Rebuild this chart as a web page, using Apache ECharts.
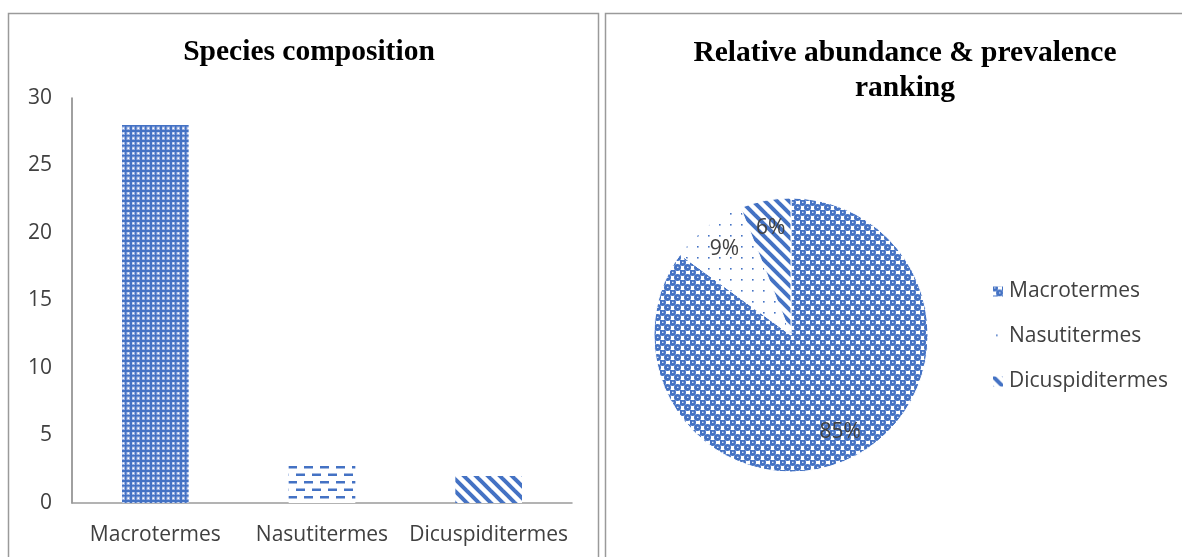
<!DOCTYPE html>
<html><head><meta charset="utf-8">
<script src="https://cdn.jsdelivr.net/npm/echarts@6/dist/echarts.min.js"></script>
<style>html,body{margin:0;padding:0;background:#fff}#c{width:1182px;height:557px}</style>
</head><body><div id="c"></div>
<script>
var categories = ['Macrotermes', 'Nasutitermes', 'Dicuspiditermes'];
var speciesCounts = [28, 3, 2];
var pieShares = [85, 9, 6];
var yTicks = [0, 5, 10, 15, 20, 25, 30];
var titleLeft = 'Species composition';
var titleRight = 'Relative abundance & prevalence\nranking';

var BLUE = '#4472C4';
function tile(w, h, draw) {
  var c = document.createElement('canvas'); c.width = w; c.height = h;
  var g = c.getContext('2d'); g.fillStyle = '#fff'; g.fillRect(0, 0, w, h);
  draw(g, w, h);
  return { image: c, repeat: 'repeat' };
}
var plaid = tile(10, 10, function (g) {
  g.fillStyle = '#98afe0'; g.fillRect(0, 0, 10, 10);
  g.fillStyle = '#fff'; g.fillRect(2.5, 2.5, 1.5, 1.5); g.fillRect(7.5, 7.5, 1.5, 1.5); g.fillRect(7.5, 2.5, 1.5, 1.5); g.fillRect(2.5, 7.5, 1.5, 1.5);
  g.fillStyle = BLUE; g.fillRect(0, 0, 10, 2); g.fillRect(0, 0, 2, 10); g.fillRect(0, 5, 10, 1.5); g.fillRect(5, 0, 1.5, 10);
});
var dashes = tile(16, 15, function (g) {
  g.fillStyle = BLUE; g.fillRect(0, 1, 9, 2.5); g.fillRect(8, 8.5, 8, 2.5); g.fillRect(0, 8.5, 1, 2.5);
});
var stripes = tile(12, 12, function (g) {
  g.strokeStyle = BLUE; g.lineWidth = 4;
  for (var k = -12; k <= 24; k += 12) { g.beginPath(); g.moveTo(k - 2, -2); g.lineTo(k + 14, 14); g.stroke(); }
});
var spheres = tile(10, 10, function (g) {
  g.fillStyle = BLUE;
  [[2.5, 2.5], [7.5, 7.5], [-2.5, 7.5], [7.5, -2.5], [12.5, 7.5], [7.5, 12.5], [-2.5, -2.5], [12.5, 12.5], [12.5, -2.5], [-2.5, 12.5]].forEach(function (p) {
    g.beginPath(); g.arc(p[0], p[1], 3.5, 0, Math.PI * 2); g.fill();
  });
  g.fillStyle = '#fff';
  [[2, 1.8], [7, 6.8]].forEach(function (p) { g.fillRect(p[0], p[1], 1.5, 1); });
});
var dots = tile(11, 11, function (g) {
  g.fillStyle = BLUE; g.fillRect(4, 4, 1.6, 1.6);
});
var barFills = [plaid, dashes, stripes];
var pieFills = [spheres, dots, stripes];

var chart = echarts.init(document.getElementById('c'), null, { renderer: 'canvas' });
var axisFont = { fontFamily: 'Open Sans', fontSize: 21, color: '#404040' };
chart.setOption({
  animation: false,
  graphic: [
    { type: 'rect', shape: { x: 8.5, y: 13.5, width: 590, height: 560 }, style: { fill: 'none', stroke: '#9a9a9a', lineWidth: 1.5 } },
    { type: 'rect', shape: { x: 605.5, y: 13.5, width: 600, height: 560 }, style: { fill: 'none', stroke: '#9a9a9a', lineWidth: 1.5 } }
  ],
  title: [
    { text: titleLeft, left: 304, top: 32, textAlign: 'center', textStyle: { fontFamily: 'Liberation Serif', fontWeight: 'bold', fontSize: 29.5, color: '#000' } },
    { text: titleRight, left: 900, top: 31, textAlign: 'center', textStyle: { fontFamily: 'Liberation Serif', fontWeight: 'bold', fontSize: 29.5, lineHeight: 35, color: '#000' } }
  ],
  grid: { left: 72, right: 610, top: 98, bottom: 54 },
  xAxis: {
    type: 'category', data: categories,
    axisLine: { lineStyle: { color: '#9a9a9a', width: 1.5 } }, axisTick: { show: false },
    axisLabel: Object.assign({ margin: 22, interval: 0 }, axisFont)
  },
  yAxis: {
    type: 'value', min: yTicks[0], max: yTicks[yTicks.length - 1], interval: 5,
    axisLine: { show: true, lineStyle: { color: '#808080', width: 1.5 } }, axisTick: { show: false },
    splitLine: { show: false },
    axisLabel: Object.assign({ margin: 20 }, axisFont)
  },
  legend: {
    orient: 'vertical', left: 986, top: 276, itemGap: 24, itemWidth: 12, itemHeight: 12,
    icon: 'rect', data: categories,
    textStyle: { fontFamily: 'Open Sans', fontSize: 21, color: '#404040' }
  },
  series: [
    {
      type: 'bar', barWidth: '40%',
      data: speciesCounts.map(function (v, i) { return { value: v, itemStyle: { color: barFills[i] } }; })
    },
    {
      type: 'pie', center: [791, 335], radius: [0, 137], startAngle: 90, clockwise: true,
      label: { show: false }, labelLine: { show: false },
      itemStyle: { borderColor: '#fff', borderWidth: 1 },
      data: categories.map(function (n, i) { return { name: n, value: pieShares[i], itemStyle: { color: pieFills[i] } }; })
    },
    {
      type: 'pie', center: [791, 335], radius: [74, 137], startAngle: 90, clockwise: true, silent: true,
      itemStyle: { color: 'rgba(0,0,0,0)' }, labelLine: { show: false },
      label: { show: true, position: 'inside', formatter: '{c}%', fontFamily: 'Open Sans', fontSize: 21, color: '#404040' },
      data: categories.map(function (n, i) { return { name: n + ' ', value: pieShares[i] }; })
    }
  ]
});
</script></body></html>
